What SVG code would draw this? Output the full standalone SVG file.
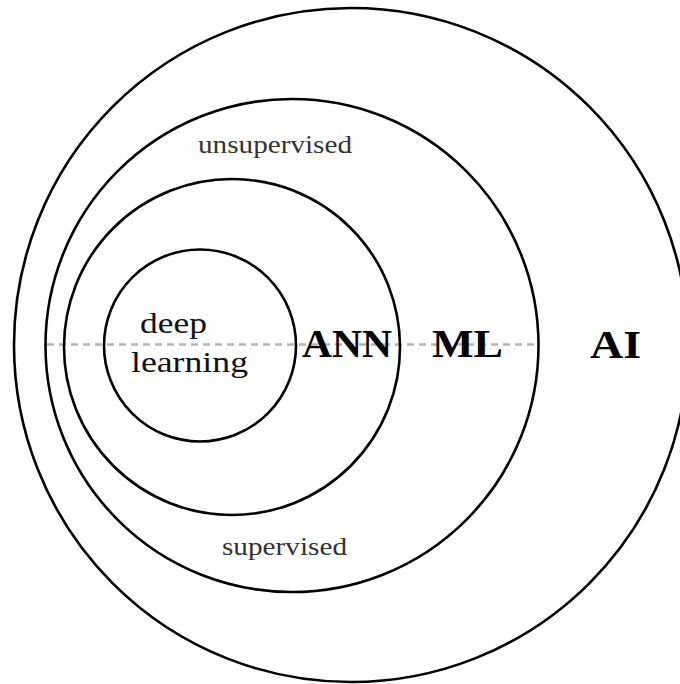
<svg xmlns="http://www.w3.org/2000/svg" width="680" height="684" viewBox="0 0 680 684">
  <style>
    .ring { fill: none; stroke: #000; stroke-width: 2.6; }
    .label { font-family: "Liberation Serif", "Times New Roman", serif; font-weight: bold; font-size: 40px; fill: #000; }
    .body { font-family: "Liberation Serif", "Times New Roman", serif; font-size: 30px; fill: #111; }
    .note { font-family: "Liberation Serif", "Times New Roman", serif; font-size: 25px; fill: #333; }
    .axis { stroke: #b4b4b4; stroke-width: 2.4; stroke-dasharray: 7 5; fill: none; }
  </style>
  <rect width="680" height="684" fill="#fff"/>

  <!-- horizontal divider through the nested sets -->
  <g id="connectors">
    <line class="axis" x1="47" y1="344.5" x2="538" y2="344.5"/>
  </g>

  <g id="ai">
    <circle class="ring" cx="351" cy="345" r="337"/>
    <text class="label" x="590" y="358" textLength="51" lengthAdjust="spacingAndGlyphs">AI</text>
  </g>

  <g id="ml">
    <circle class="ring" cx="292" cy="345.5" r="246.5"/>
    <text class="label" x="432" y="357" textLength="71" lengthAdjust="spacingAndGlyphs">ML</text>
    <text class="note" x="198" y="153" textLength="154" lengthAdjust="spacingAndGlyphs">unsupervised</text>
    <text class="note" x="222" y="555" textLength="125" lengthAdjust="spacingAndGlyphs">supervised</text>
  </g>

  <g id="ann">
    <circle class="ring" cx="232" cy="347" r="168"/>
    <text class="label" x="302" y="357" textLength="90" lengthAdjust="spacingAndGlyphs">ANN</text>
  </g>

  <g id="deep-learning">
    <circle class="ring" cx="200" cy="345.5" r="96"/>
    <text class="body" x="140" y="333" textLength="67" lengthAdjust="spacingAndGlyphs">deep</text>
    <text class="body" x="131" y="372" textLength="117" lengthAdjust="spacingAndGlyphs">learning</text>
  </g>
</svg>
